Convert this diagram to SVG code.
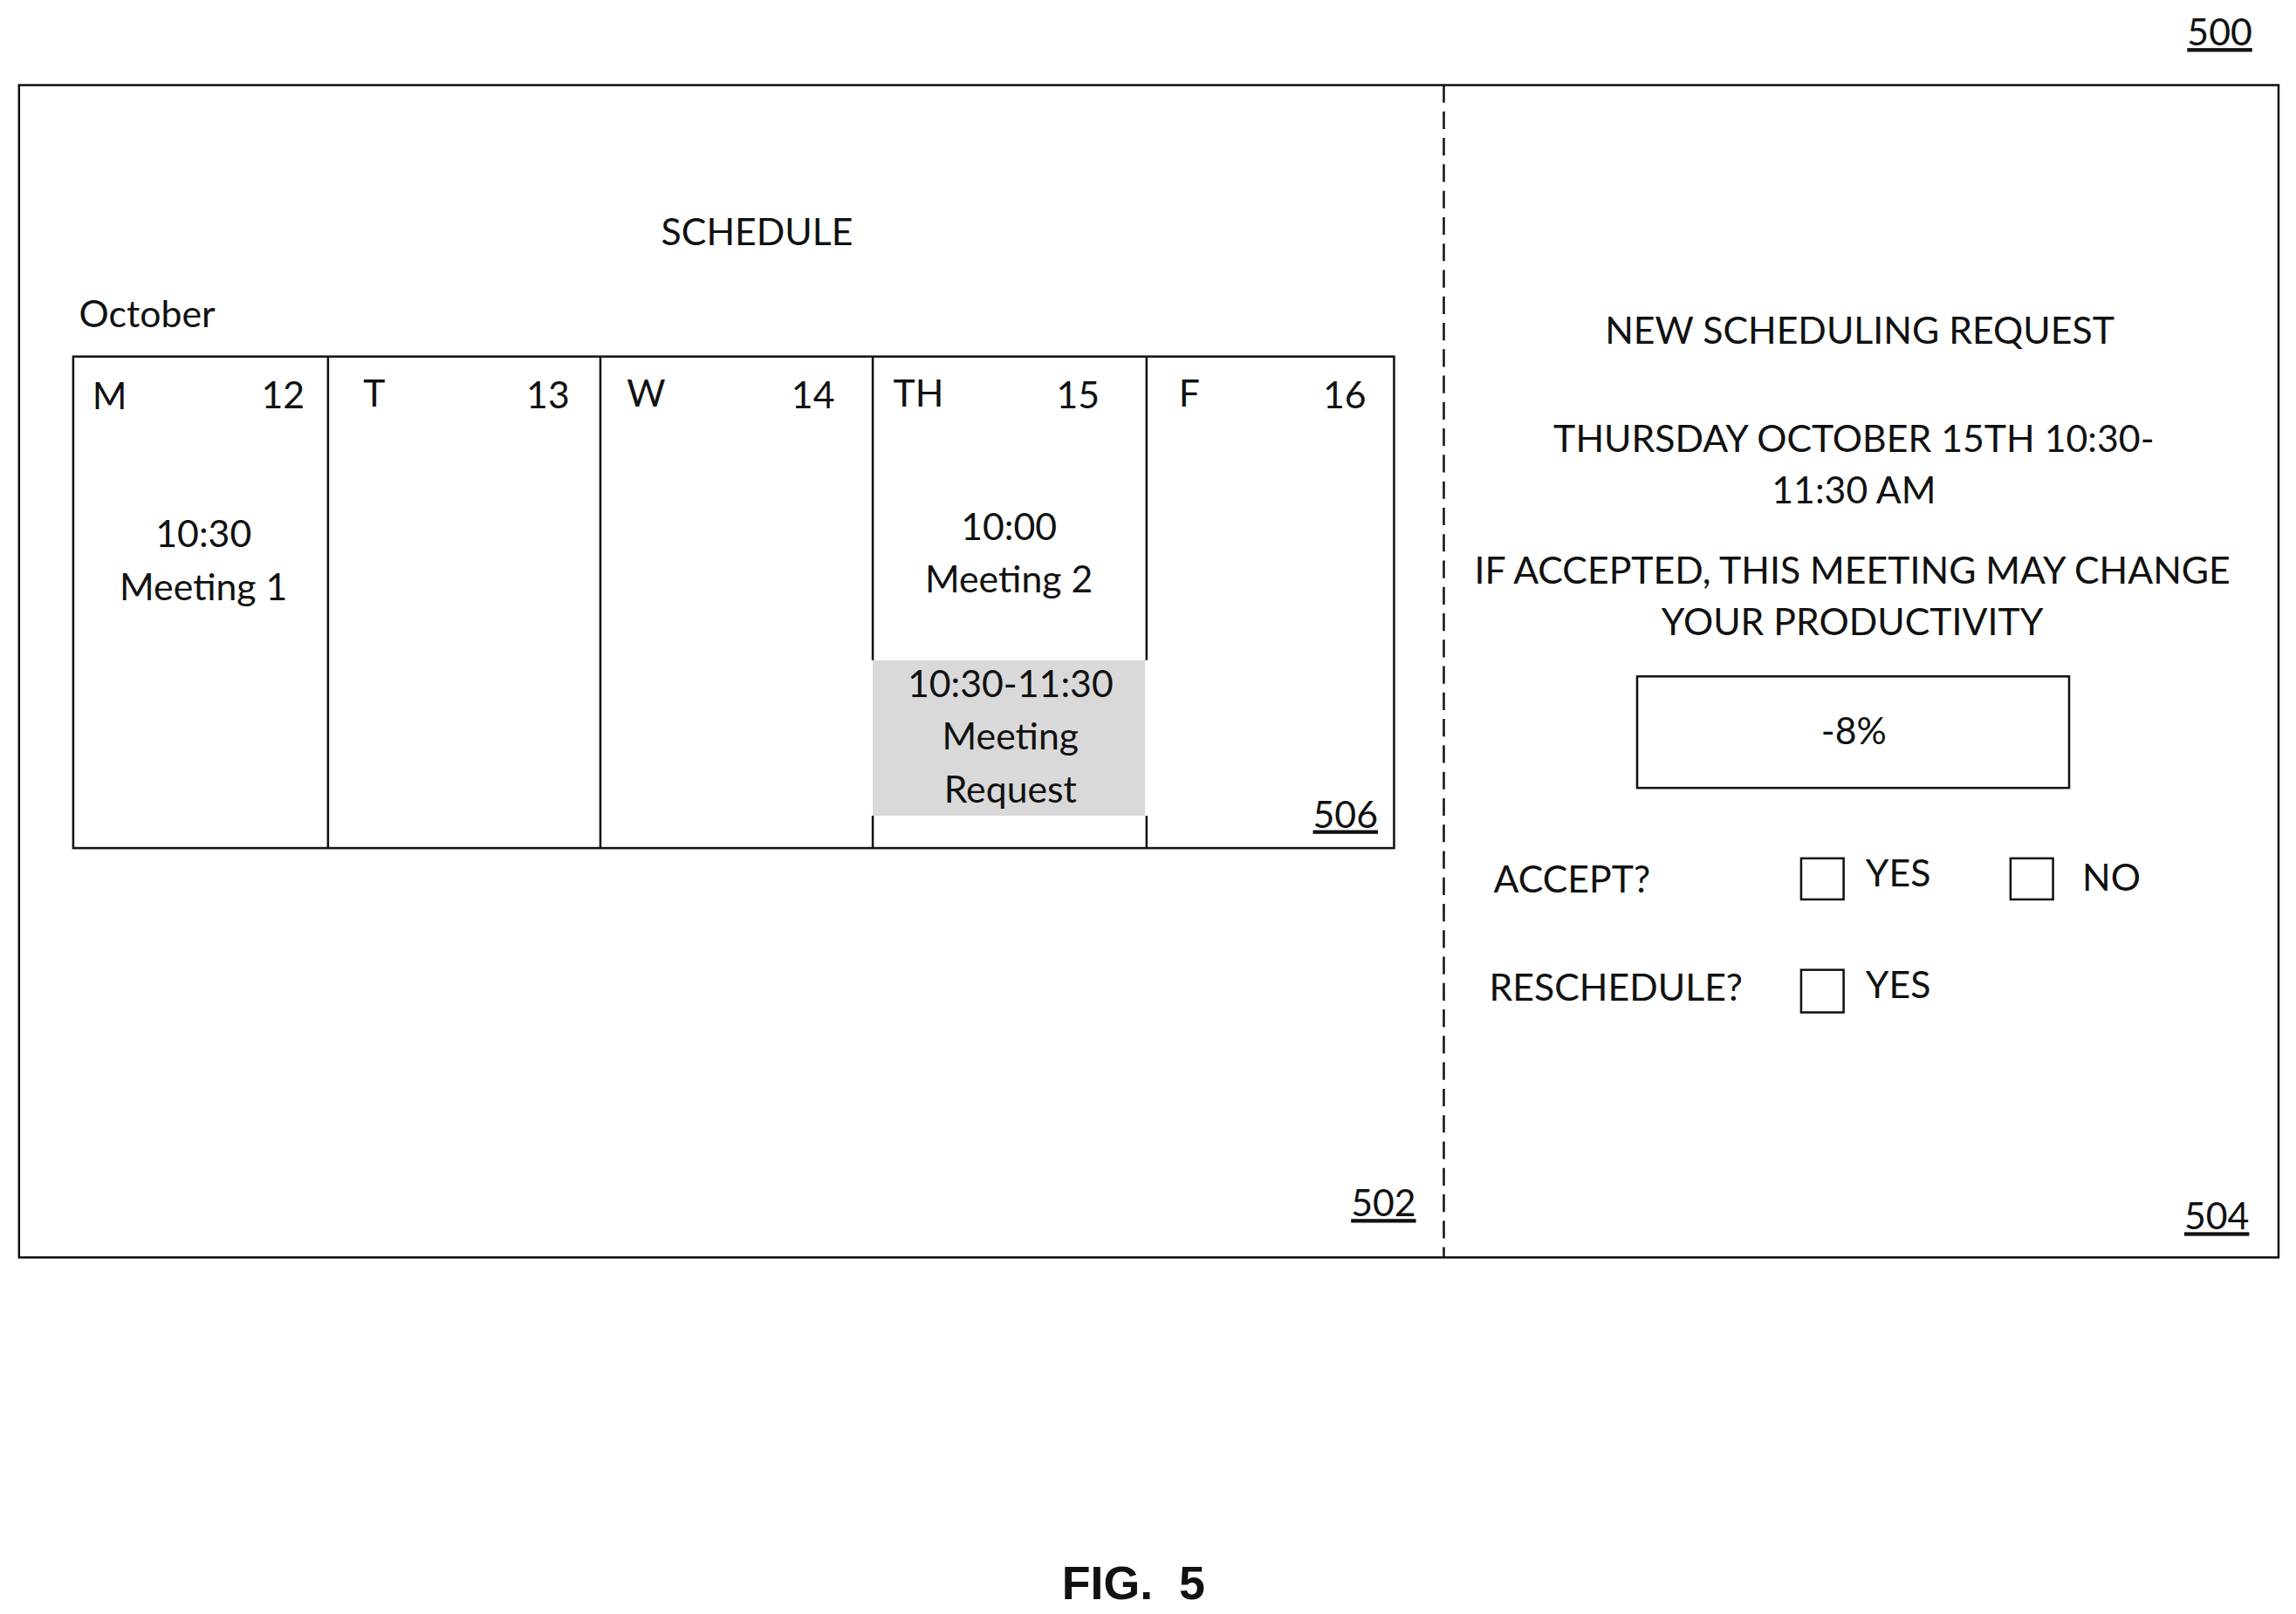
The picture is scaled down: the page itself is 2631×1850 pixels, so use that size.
<svg xmlns="http://www.w3.org/2000/svg" width="2631" height="1850" viewBox="0 0 2631 1850">
<style>
text{font-family:Lato,"Open Sans",sans-serif;font-size:25.5px;fill:#111}
.m{text-anchor:middle}.e{text-anchor:end}
.ln{fill:none;stroke:#111;stroke-width:1.5}
.u{text-decoration:underline}
</style>
<rect width="2631" height="1850" fill="#fff"/>
<g transform="scale(1.678,1.6818)">
<g id="frame">
<rect class="ln" x="13" y="58" width="1543" height="799"/>
<line class="ln" x1="986" y1="58" x2="986" y2="857" stroke-dasharray="12,6"/>
<text class="e u" x="1538" y="31">500</text>
</g>
<g id="schedule">
<text class="m" x="517" y="167">SCHEDULE</text>
<text x="54" y="223">October</text>
<rect x="596" y="450" width="186" height="106" fill="#d9d9d9"/>
<rect class="ln" x="50" y="243" width="902" height="335"/>
<line class="ln" x1="224" y1="243" x2="224" y2="578"/>
<line class="ln" x1="410" y1="243" x2="410" y2="578"/>
<line class="ln" x1="596" y1="243" x2="596" y2="450"/><line class="ln" x1="596" y1="556" x2="596" y2="578"/>
<line class="ln" x1="783" y1="243" x2="783" y2="450"/><line class="ln" x1="783" y1="556" x2="783" y2="578"/>
<text x="63" y="279">M</text><text class="e" x="208" y="278">12</text>
<text x="248" y="277">T</text><text class="e" x="389" y="278">13</text>
<text x="428" y="277">W</text><text class="e" x="570" y="278">14</text>
<text x="610" y="277">TH</text><text class="e" x="751" y="278">15</text>
<text x="805" y="277">F</text><text class="e" x="933" y="278">16</text>
<text class="m" x="139" y="373">10:30</text><text class="m" x="139" y="409">Meeting 1</text>
<text class="m" x="689" y="368">10:00</text><text class="m" x="689" y="404">Meeting 2</text>
<text class="m" x="690" y="475">10:30-11:30</text><text class="m" x="690" y="511">Meeting</text><text class="m" x="690" y="547">Request</text>
<text class="e u" x="941" y="564">506</text>
<text class="e u" x="967" y="829">502</text>
</g>
<g id="request">
<text class="m" x="1270" y="234">NEW SCHEDULING REQUEST</text>
<text class="m" x="1266" y="308">THURSDAY OCTOBER 15TH 10:30-</text>
<text class="m" x="1266" y="343">11:30 AM</text>
<text class="m" x="1265" y="398">IF ACCEPTED, THIS MEETING MAY CHANGE</text>
<text class="m" x="1265" y="433">YOUR PRODUCTIVITY</text>
<rect class="ln" x="1118" y="461" width="295" height="76"/>
<text class="m" x="1266" y="507">-8%</text>
<text x="1020" y="608">ACCEPT?</text>
<rect class="ln" x="1230" y="585" width="29" height="28"/><text x="1274" y="604">YES</text>
<rect class="ln" x="1373" y="585" width="29" height="28"/><text x="1422" y="607">NO</text>
<text x="1017" y="682">RESCHEDULE?</text>
<rect class="ln" x="1230" y="661" width="29" height="29"/><text x="1274" y="680">YES</text>
<text class="e u" x="1536" y="838">504</text>
</g>
<text class="m" x="774" y="1090" xml:space="preserve" style="font-family:'Liberation Sans',sans-serif;font-weight:bold;font-size:32px">FIG.  5</text>
</g>
</svg>
